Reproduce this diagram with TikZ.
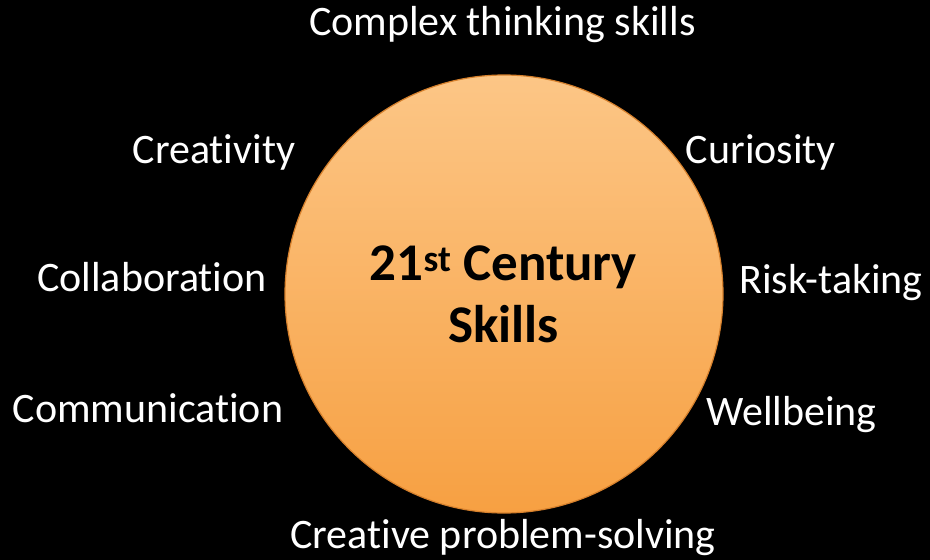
\documentclass[tikz,border=0pt]{standalone}
\usepackage{fontspec}
\setmainfont[RawFeature=-liga,RawFeature=-calt,RawFeature=-clig,RawFeature=-dlig]{Carlito}
\definecolor{sunlight}{RGB}{252,198,134}
\definecolor{sundeep}{RGB}{247,160,66}
\definecolor{sunrim}{RGB}{214,128,44}
\tikzset{
  skill/.style={anchor=base,inner sep=0pt,text=white,font=\fontsize{42}{50}\selectfont},
  hub/.style={circle,minimum size=438pt,inner sep=0pt,draw=sunrim,line width=1.2pt,
    top color=sunlight,bottom color=sundeep},
  hubtext/.style={align=center,inner sep=0pt,text=black,font=\bfseries\fontsize{53}{62}\selectfont}
}
\begin{document}
\begin{tikzpicture}[x=1pt,y=-1pt]
      \fill[black] (0,0) rectangle (930,560);
      \useasboundingbox (0,0) rectangle (930,560);
      \node[hub] (c) at (504,294) {};
      \node[hubtext] (t) at (503.5,294) {21\textsuperscript{st} Century\\Skills};
      \draw
        (502.5,35) node[skill] (0){Complex thinking skills}
        (761,163) node[skill] (1){Curiosity}
        (831,293) node[skill] (2){Risk-taking}
        (791.5,425) node[skill] (3){Wellbeing}
        (503,548) node[skill] (4){Creative problem-solving}
        (148,422) node[skill] (5){Communication}
        (152,291) node[skill] (6){Collaboration}
        (214,163) node[skill] (7){Creativity};
    \end{tikzpicture}
\end{document}
